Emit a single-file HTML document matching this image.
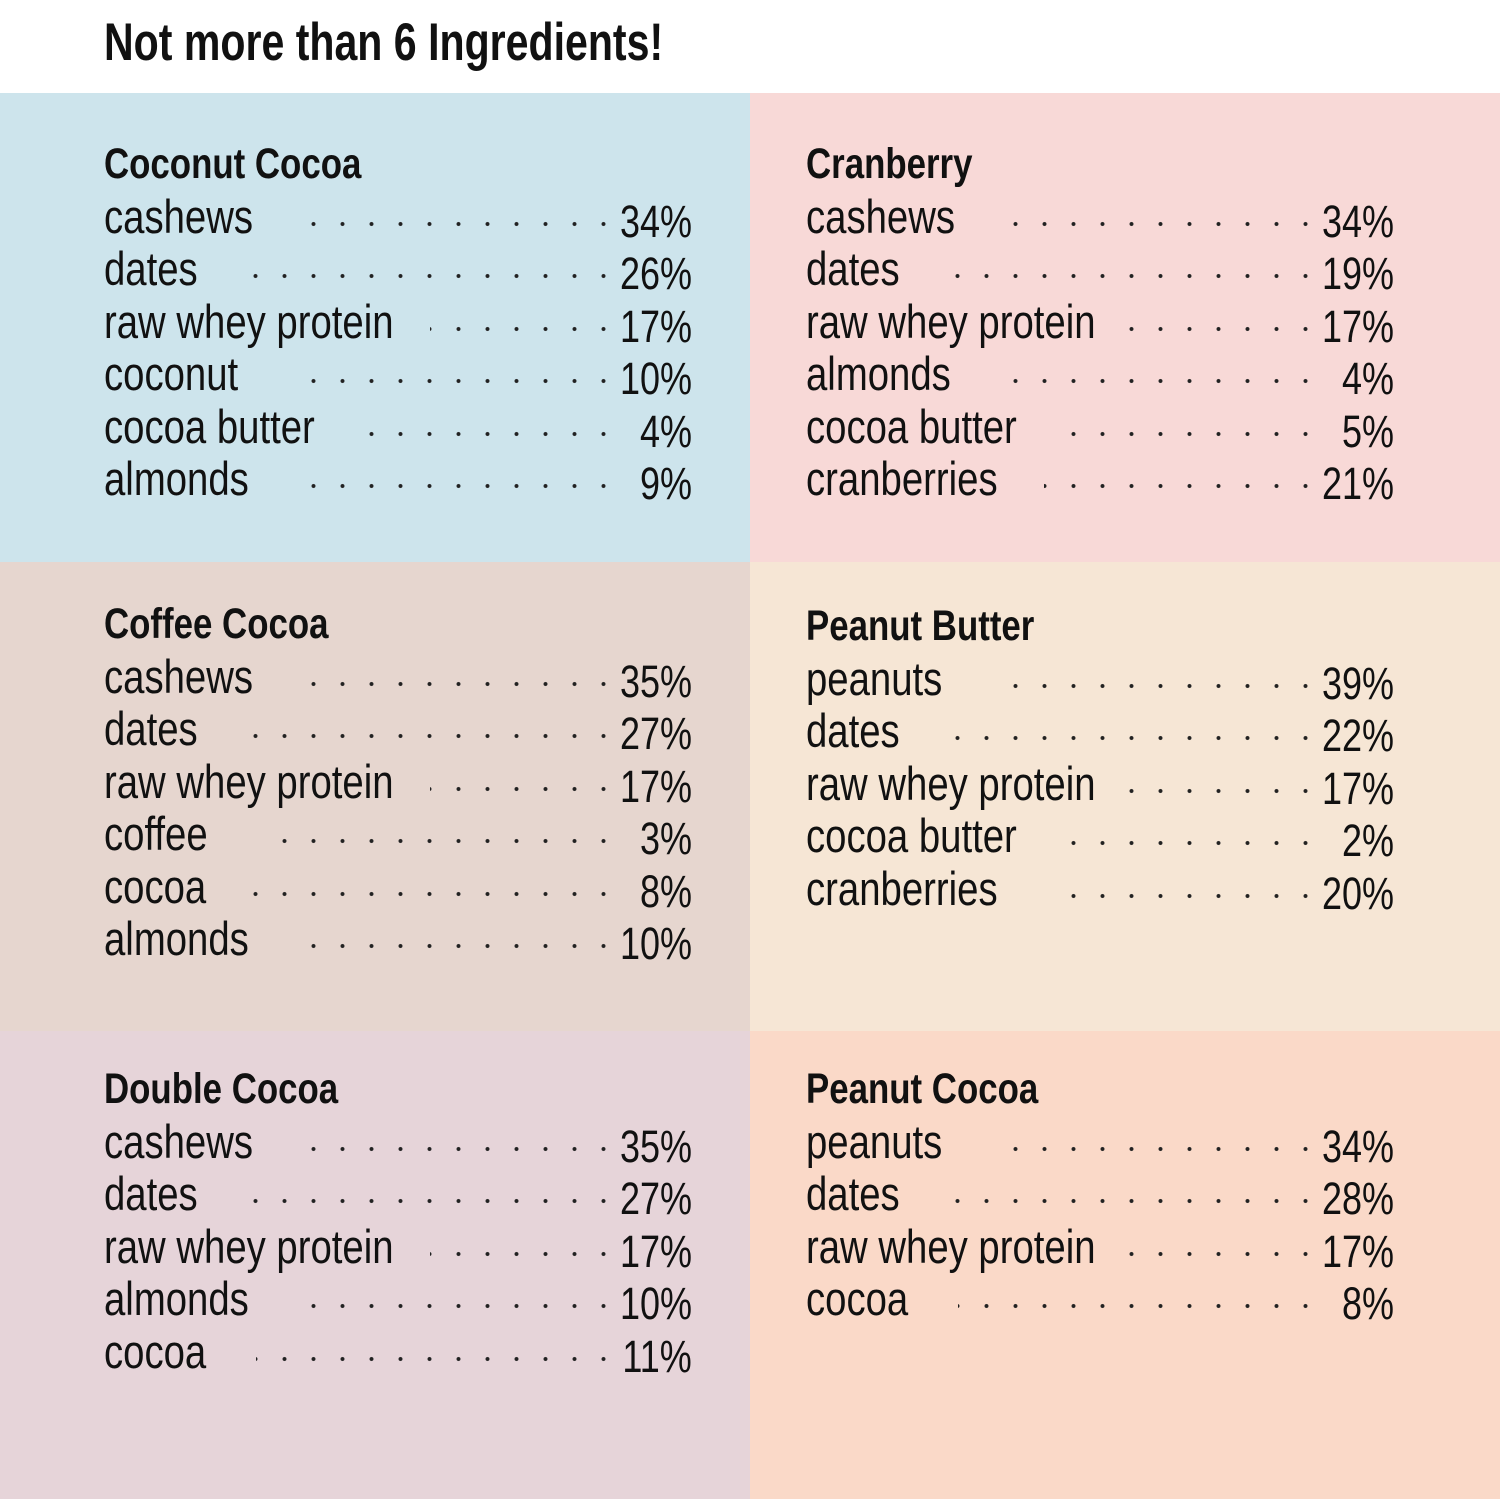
<!DOCTYPE html>
<html><head><meta charset="utf-8"><style>
body{margin:0;width:1500px;height:1499px;position:relative;background:#fff;font-family:"Liberation Sans Narrow","Liberation Sans",sans-serif;color:#111;overflow:hidden}
.t{position:absolute;left:104px;top:12px;font-size:53px;font-weight:bold;line-height:62px;transform:scaleX(0.775);transform-origin:left center;white-space:nowrap}
.p{position:absolute;width:750px;height:469px}
.b{position:absolute;left:104px;width:588px}
.h{font-weight:bold;font-size:43px;line-height:52.5px;height:52.5px;transform:scaleX(0.81);transform-origin:left center;white-space:nowrap}
.r{position:relative;height:52.5px;line-height:52.5px;white-space:nowrap}
.l{position:absolute;left:0;top:0;font-size:47px;transform:scaleX(0.815);transform-origin:left center}
.v{position:absolute;right:0;top:5px;font-size:45px;transform:scaleX(0.8);transform-origin:right center}
.d{position:absolute;right:74px;top:29px;height:8px;background:radial-gradient(circle,#222 1.7px,transparent 2.3px) right center/29px 8px repeat-x}
</style></head><body>
<div class="t">Not more than 6 Ingredients!</div>

<div class="p" style="left:0;top:93px;background:#cde4ec"><div class="b" style="top:45px">
<div class="h">Coconut Cocoa</div>
<div class="r"><span class="l">cashews</span><span class="d" style="left:196px"></span><span class="v">34%</span></div>
<div class="r"><span class="l">dates</span><span class="d" style="left:146px"></span><span class="v">26%</span></div>
<div class="r"><span class="l">raw whey protein</span><span class="d" style="left:326px"></span><span class="v">17%</span></div>
<div class="r"><span class="l">coconut</span><span class="d" style="left:196px"></span><span class="v">10%</span></div>
<div class="r"><span class="l">cocoa butter</span><span class="d" style="left:260px"></span><span class="v">4%</span></div>
<div class="r"><span class="l">almonds</span><span class="d" style="left:190px"></span><span class="v">9%</span></div>
</div></div>

<div class="p" style="left:750px;top:93px;background:#f8d9d7"><div class="b" style="left:56px;top:45px">
<div class="h">Cranberry</div>
<div class="r"><span class="l">cashews</span><span class="d" style="left:194px"></span><span class="v">34%</span></div>
<div class="r"><span class="l">dates</span><span class="d" style="left:140px"></span><span class="v">19%</span></div>
<div class="r"><span class="l">raw whey protein</span><span class="d" style="left:322px"></span><span class="v">17%</span></div>
<div class="r"><span class="l">almonds</span><span class="d" style="left:192px"></span><span class="v">4%</span></div>
<div class="r"><span class="l">cocoa butter</span><span class="d" style="left:262px"></span><span class="v">5%</span></div>
<div class="r"><span class="l">cranberries</span><span class="d" style="left:238px"></span><span class="v">21%</span></div>
</div></div>

<div class="p" style="left:0;top:562px;background:#e6d6cf"><div class="b" style="top:36px">
<div class="h">Coffee Cocoa</div>
<div class="r"><span class="l">cashews</span><span class="d" style="left:196px"></span><span class="v">35%</span></div>
<div class="r"><span class="l">dates</span><span class="d" style="left:146px"></span><span class="v">27%</span></div>
<div class="r"><span class="l">raw whey protein</span><span class="d" style="left:326px"></span><span class="v">17%</span></div>
<div class="r"><span class="l">coffee</span><span class="d" style="left:178px"></span><span class="v">3%</span></div>
<div class="r"><span class="l">cocoa</span><span class="d" style="left:148px"></span><span class="v">8%</span></div>
<div class="r"><span class="l">almonds</span><span class="d" style="left:196px"></span><span class="v">10%</span></div>
</div></div>

<div class="p" style="left:750px;top:562px;background:#f6e6d5"><div class="b" style="left:56px;top:38px">
<div class="h">Peanut Butter</div>
<div class="r"><span class="l">peanuts</span><span class="d" style="left:192px"></span><span class="v">39%</span></div>
<div class="r"><span class="l">dates</span><span class="d" style="left:140px"></span><span class="v">22%</span></div>
<div class="r"><span class="l">raw whey protein</span><span class="d" style="left:322px"></span><span class="v">17%</span></div>
<div class="r"><span class="l">cocoa butter</span><span class="d" style="left:252px"></span><span class="v">2%</span></div>
<div class="r"><span class="l">cranberries</span><span class="d" style="left:258px"></span><span class="v">20%</span></div>
</div></div>

<div class="p" style="left:0;top:1031px;height:468px;background:#e6d4d9"><div class="b" style="top:32px">
<div class="h">Double Cocoa</div>
<div class="r"><span class="l">cashews</span><span class="d" style="left:196px"></span><span class="v">35%</span></div>
<div class="r"><span class="l">dates</span><span class="d" style="left:146px"></span><span class="v">27%</span></div>
<div class="r"><span class="l">raw whey protein</span><span class="d" style="left:326px"></span><span class="v">17%</span></div>
<div class="r"><span class="l">almonds</span><span class="d" style="left:196px"></span><span class="v">10%</span></div>
<div class="r"><span class="l">cocoa</span><span class="d" style="left:152px"></span><span class="v">11%</span></div>
</div></div>

<div class="p" style="left:750px;top:1031px;height:468px;background:#fad9c8"><div class="b" style="left:56px;top:32px">
<div class="h">Peanut Cocoa</div>
<div class="r"><span class="l">peanuts</span><span class="d" style="left:192px"></span><span class="v">34%</span></div>
<div class="r"><span class="l">dates</span><span class="d" style="left:140px"></span><span class="v">28%</span></div>
<div class="r"><span class="l">raw whey protein</span><span class="d" style="left:322px"></span><span class="v">17%</span></div>
<div class="r"><span class="l">cocoa</span><span class="d" style="left:152px"></span><span class="v">8%</span></div>
</div></div>
</body></html>
